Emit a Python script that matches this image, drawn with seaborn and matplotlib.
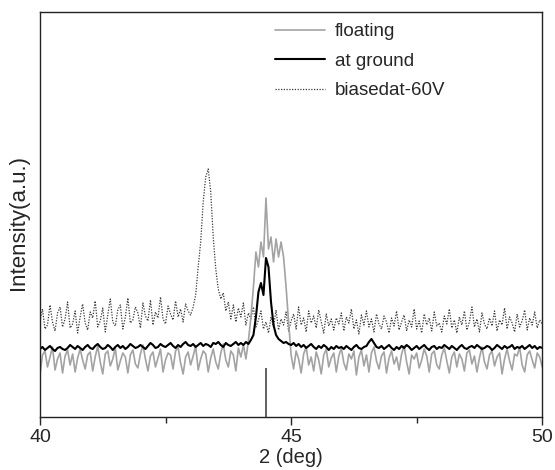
import numpy as np
import pandas as pd
import matplotlib
matplotlib.use("Agg")
import matplotlib.pyplot as plt
import seaborn as sns
from matplotlib.ticker import MultipleLocator

# 2theta grid, 40 -> 50 deg, step 0.05
two_theta = np.round(np.linspace(40, 50, 201), 2)

floating = [
    42, 62, 66, 50, 60, 70, 47, 58, 64, 44,
    61, 67, 52, 63, 45, 59, 68, 57, 48, 62,
    65, 46, 60, 71, 55, 43, 63, 66, 51, 58,
    69, 47, 56, 64, 60, 44, 62, 67, 53, 49,
    63, 72, 58, 46, 61, 65, 50, 59, 68, 45,
    57, 64, 62, 48, 66, 70, 54, 43, 60, 65,
    52, 61, 71, 47, 58, 66, 63, 45, 59, 68,
    55, 48, 64, 73, 57, 50, 66, 62, 46, 69,
    60, 72, 58, 76, 100, 130, 165, 150, 175, 160,
    219, 168, 180, 155, 178, 160, 175, 160, 130, 95,
    62, 48, 66, 58, 44, 63, 70, 52, 60, 46,
    65, 57, 43, 62, 68, 50, 59, 64, 45, 61,
    69, 54, 47, 63, 58, 66, 42, 60, 67, 51,
    62, 45, 64, 70, 56, 48, 61, 65, 44, 59,
    66, 53, 60, 47, 63, 71, 55, 43, 62, 58,
    64, 49, 57, 68, 61, 45, 63, 66, 52, 48,
    62, 69, 56, 44, 60, 65, 50, 63, 58, 46,
    64, 67, 53, 61, 45, 59, 70, 55, 48, 62,
    66, 51, 60, 64, 43, 58, 68, 56, 47, 63,
    61, 70, 52, 45, 62, 66, 57, 49, 64, 60,
    50,
]

at_ground = [
    68, 70, 67, 69, 71, 68, 66, 69, 70, 68,
    67, 69, 72, 70, 68, 71, 69, 67, 70, 72,
    69, 68, 71, 73, 70, 68, 69, 72, 70, 67,
    70, 72, 69, 71, 68, 70, 73, 71, 69, 70,
    72, 70, 68, 71, 74, 72, 69, 70, 73, 71,
    70, 72, 74, 71, 69, 72, 70, 73, 75, 72,
    71, 73, 70, 72, 74, 71, 73, 72, 70, 74,
    73, 75, 72, 70, 74, 72, 71, 73, 75, 72,
    74, 72, 75, 73, 77, 82, 100, 125, 134, 122,
    159, 150, 115, 92, 82, 78, 76, 74, 75, 73,
    72, 74, 71, 73, 70, 72, 69, 71, 73, 70,
    68, 71, 69, 72, 70, 67, 70, 68, 71, 69,
    70, 68, 71, 69, 67, 70, 72, 69, 68, 70,
    71, 75, 78, 74, 70, 69, 71, 68, 70, 72,
    69, 67, 70, 68, 71, 69, 72, 70, 67, 69,
    71, 68, 70, 72, 69, 67, 70, 71, 68, 70,
    69, 72, 70, 68, 71, 69, 67, 70, 72, 69,
    68, 70, 71, 69, 72, 70, 68, 69, 71, 70,
    67, 69, 72, 70, 68, 71, 69, 70, 72, 68,
    70, 69, 71, 68, 70, 72, 69, 71, 68, 70,
    69,
]

biased = [
    96, 108, 88, 92, 112, 95, 86, 104, 110, 90,
    98, 115, 89, 93, 106, 84, 100, 113, 94, 87,
    105, 99, 116, 90, 96, 109, 85, 102, 118, 95,
    91, 107, 112, 88, 100, 119, 94, 97, 110, 104,
    89, 114, 101, 96, 117, 92, 105, 99, 120, 98,
    93, 111, 103, 97, 116, 100, 108, 95, 113, 106,
    102, 110, 122, 150, 175, 215, 240, 248, 225, 180,
    148, 128, 118, 124, 106, 115, 98, 112, 95, 109,
    100, 114, 92, 104, 98, 110, 90, 97, 106, 88,
    95, 84, 100, 90, 107, 87, 98, 92, 105, 86,
    96, 103, 88, 110, 92, 99, 85, 106, 94, 101,
    89, 107, 95, 84, 103, 91, 98, 87, 99, 93,
    104, 86, 100, 94, 108, 88, 97, 83, 102, 92,
    106, 90, 98, 85, 103, 93, 88, 101, 95, 84,
    99, 91, 106, 87, 95, 102, 86, 97, 90, 108,
    88, 96, 84, 103, 92, 99, 86, 105, 91, 94,
    85, 101, 93, 108, 89, 97, 84, 100, 92, 106,
    87, 95, 110, 90, 98, 85, 104, 93, 88, 99,
    91, 106, 86, 97, 92, 109, 88, 100, 94, 85,
    103, 90, 96, 107, 87, 99, 92, 105, 89, 97,
    93,
]

labels = ["floating", "at ground", "biasedat-60V"]
ref_peak = 44.5
ref_height = 49

sns.set_style("ticks")
plt.rcParams["font.family"] = ["Liberation Sans", "DejaVu Sans"]

df = pd.DataFrame({"2theta": two_theta, "floating": floating,
                   "at_ground": at_ground, "biased": biased})

fig = plt.figure(figsize=(5.55, 4.7), dpi=100)
ax = fig.add_axes([0.072, 0.1128, 0.905, 0.8617])

sns.lineplot(data=df, x="2theta", y="biased", ax=ax, color="#3a3a3a",
             linestyle=(0, (1, 1.2)), lw=0.9)
sns.lineplot(data=df, x="2theta", y="floating", ax=ax, color="#a3a3a3", lw=1.2)
sns.lineplot(data=df, x="2theta", y="at_ground", ax=ax, color="black", lw=1.5)
ax.vlines(ref_peak, 0, ref_height, color="#555555", lw=1.3)

lines = ax.get_lines()
handles = [lines[1], lines[2], lines[0]]
ax.legend(handles, labels, loc="upper left", bbox_to_anchor=(0.468, 0.972),
          frameon=False, fontsize=13.5, handlelength=2.67, handletextpad=0.53,
          labelspacing=0.66, borderpad=0, borderaxespad=0)

ax.set_xlim(40, 50)
ax.set_ylim(0, 405)
ax.xaxis.set_major_locator(MultipleLocator(5))
ax.xaxis.set_minor_locator(MultipleLocator(2.5))
ax.tick_params(axis="x", which="major", length=6, width=1, labelsize=14, pad=3)
ax.tick_params(axis="x", which="minor", length=4, width=1)
ax.set_yticks([])
for s in ax.spines.values():
    s.set_visible(True)
    s.set_linewidth(1.0)
    s.set_color("#222222")

ax.set_xlabel("2 (deg)", fontsize=14.5, labelpad=1)
ax.set_ylabel("Intensity(a.u.)", fontsize=16)
ax.yaxis.set_label_coords(-0.022, 0.48)

fig.savefig("out.png", dpi=100)
